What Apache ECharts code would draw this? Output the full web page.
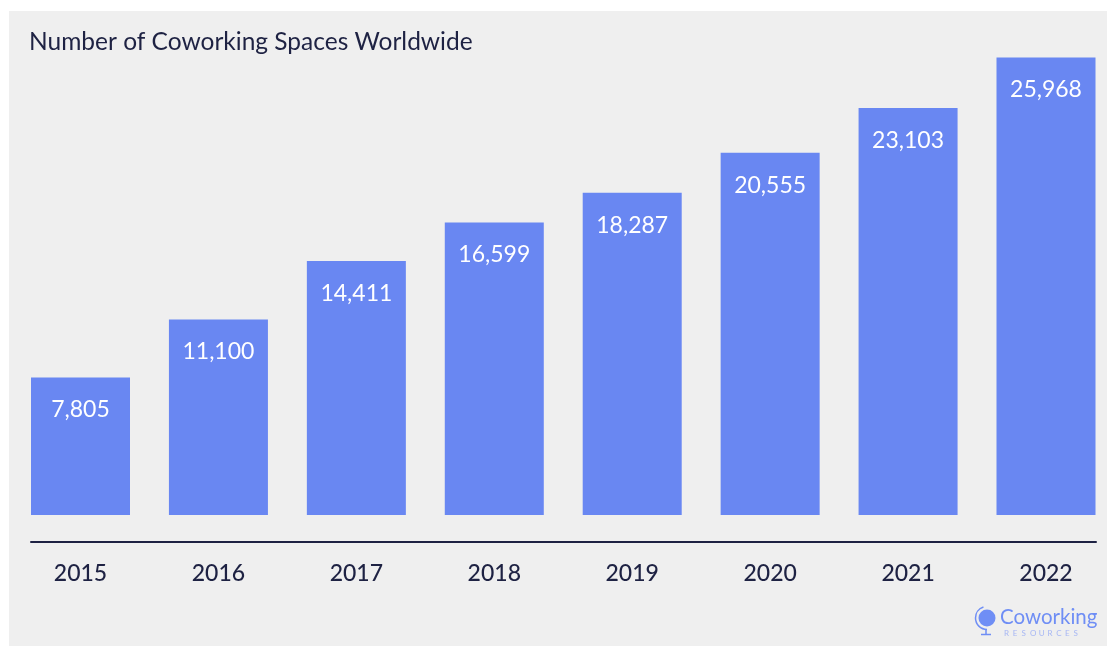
<!DOCTYPE html>
<html><head><meta charset="utf-8">
<script src="https://cdn.jsdelivr.net/npm/echarts@6/dist/echarts.min.js"></script>
<style>html,body{margin:0;padding:0;background:#fff}#c{width:1107px;height:646px}</style>
</head><body><div id="c"></div>
<script>
const title = "Number of Coworking Spaces Worldwide";
const years = ["2015","2016","2017","2018","2019","2020","2021","2022"];
const spaces = [7805, 11100, 14411, 16599, 18287, 20555, 23103, 25968];

const navy = "#1e2243";
const barColor = "#6987f2";
const logoBlue = "#6f8ef5";
const font = "Lato";

const resLetters = "RESOURCES".split("").map((ch, i) => ({
  type: 'text', x: 1004 + i * 8.7, y: 629,
  style: {text: ch, fontFamily: font, fontSize: 8, fill: '#a7b7f4'}
}));

const chart = echarts.init(document.getElementById('c'), null, {renderer:'canvas'});
chart.setOption({
  backgroundColor: '#ffffff',
  animation: false,
  title: {
    text: title, left: 24, top: 25,
    textStyle: {fontFamily: font, fontSize: 24.5, fontWeight: 'normal', color: navy}
  },
  grid: [
    {left: 80.5, right: 61, top: 21.6, bottom: 131, containLabel: false},
    {left: 31, right: 11, top: 21.6, bottom: 104, containLabel: false}
  ],
  xAxis: [
    {type: 'category', data: years, gridIndex: 0, offset: 27, boundaryGap: false,
     axisLine: {show: false}, axisTick: {show: false},
     axisLabel: {fontFamily: font, fontSize: 23, fontWeight: 500, color: navy, margin: 20}},
    {type: 'value', gridIndex: 1, min: 0, max: 1,
     axisLine: {show: true, lineStyle: {color: navy, width: 2}},
     axisTick: {show: false}, axisLabel: {show: false}, splitLine: {show: false}}
  ],
  yAxis: [
    {type: 'value', gridIndex: 0, min: 0, max: 28000, show: false, splitLine: {show: false}},
    {type: 'value', gridIndex: 1, show: false, splitLine: {show: false}}
  ],
  series: [{
    type: 'bar', xAxisIndex: 0, yAxisIndex: 0, data: spaces,
    barWidth: 99,
    itemStyle: {color: barColor},
    label: {
      show: true, position: 'insideTop', distance: 21,
      fontFamily: font, fontSize: 23, color: '#ffffff',
      formatter: p => p.value.toLocaleString('en-US')
    }
  }],
  graphic: [
    {type: 'rect', z: -10, shape: {x: 9, y: 11, width: 1098, height: 635}, style: {fill: '#efefef'}},
    {type: 'circle', shape: {cx: 987, cy: 618, r: 8.5}, style: {fill: logoBlue}},
    {type: 'arc', shape: {cx: 987, cy: 618, r: 11.5, startAngle: Math.PI*0.5, endAngle: Math.PI*1.4}, style: {stroke: logoBlue, lineWidth: 1.5, fill: null}},
    {type: 'line', shape: {x1: 986, y1: 629.5, x2: 986, y2: 634}, style: {stroke: logoBlue, lineWidth: 1.5}},
    {type: 'line', shape: {x1: 981, y1: 634.5, x2: 991, y2: 634.5}, style: {stroke: logoBlue, lineWidth: 1.5}},
    {type: 'text', x: 1000, y: 607, style: {text: 'Coworking', fontFamily: font, fontSize: 20.5, fill: logoBlue}}
  ].concat(resLetters)
});
</script></body></html>
